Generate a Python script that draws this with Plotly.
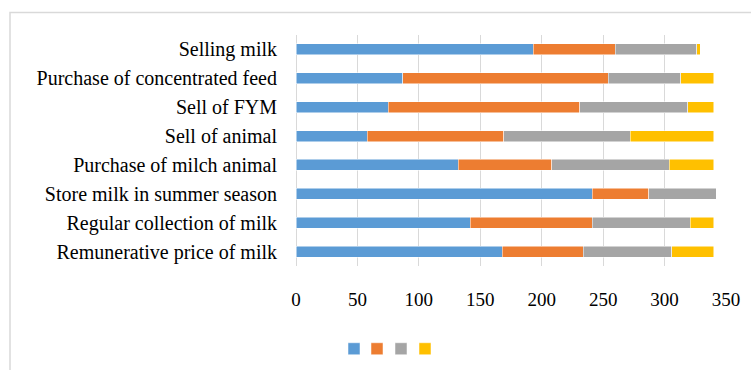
import plotly.graph_objects as go

categories = [
    "Remunerative price of milk",
    "Regular collection of milk",
    "Store milk in summer season",
    "Purchase of milch animal",
    "Sell of animal",
    "Sell of FYM",
    "Purchase of concentrated feed",
    "Selling milk",
]
series1 = [168, 142, 241, 132, 58, 75, 87, 193]
series2 = [66, 99, 46, 76, 111, 156, 167, 67]
series3 = [72, 80, 55, 96, 103, 88, 59, 66]
series4 = [34, 19, 0, 36, 68, 21, 27, 3]
series_names = ["", "", "", ""]
colors = ["#5B9BD5", "#ED7D31", "#A5A5A5", "#FFC000"]
x_ticks = [0, 50, 100, 150, 200, 250, 300, 350]

W, H = 751, 370
L, R, T, B = 296, 25, 34.5, 103.5
pw = W - L - R
ph = H - T - B

# one compact legend per series so the swatches sit close together
legend_px = [334, 357, 381, 405]
legend_keys = ["legend", "legend2", "legend3", "legend4"]

fig = go.Figure()
for name, vals, col, key in zip(series_names, [series1, series2, series3, series4],
                                colors, legend_keys):
    fig.add_trace(go.Bar(
        y=categories, x=vals, orientation="h", name=name,
        marker=dict(color=col, line=dict(color="white", width=0.5)),
        showlegend=True, legend=key,
    ))

# light frame of the chart area (left and top edges visible)
fig.add_shape(type="rect", xref="paper", yref="paper",
              x0=(10 - L) / pw, x1=(800 - L) / pw,
              y0=(H - 420 - B) / ph, y1=(H - 12 - B) / ph,
              line=dict(color="#D9D9D9", width=1.5), layer="below")

legend_style = {}
for key, px in zip(legend_keys, legend_px):
    legend_style[key] = dict(orientation="h", x=(px - L) / pw, xanchor="left",
                             y=-(350 - (H - B)) / ph, yanchor="middle",
                             itemwidth=30, font=dict(size=14),
                             bgcolor="rgba(0,0,0,0)")

fig.update_layout(
    width=W, height=H,
    barmode="stack", bargap=0.62,
    margin=dict(l=L, r=R, t=T, b=B, autoexpand=False),
    paper_bgcolor="white", plot_bgcolor="white",
    font=dict(family="Liberation Serif", size=20, color="#000000"),
    xaxis=dict(range=[0, 350], tickvals=x_ticks, showgrid=True,
               gridcolor="#D9D9D9", gridwidth=1, zeroline=True,
               zerolinecolor="#D9D9D9", zerolinewidth=1,
               showline=False, ticklabelstandoff=20, fixedrange=True,
               automargin=False, tickfont=dict(size=19)),
    yaxis=dict(showgrid=False, showline=False, zeroline=False,
               ticklabelstandoff=18, fixedrange=True, automargin=False),
    **legend_style,
)

fig.write_html("out.html")
